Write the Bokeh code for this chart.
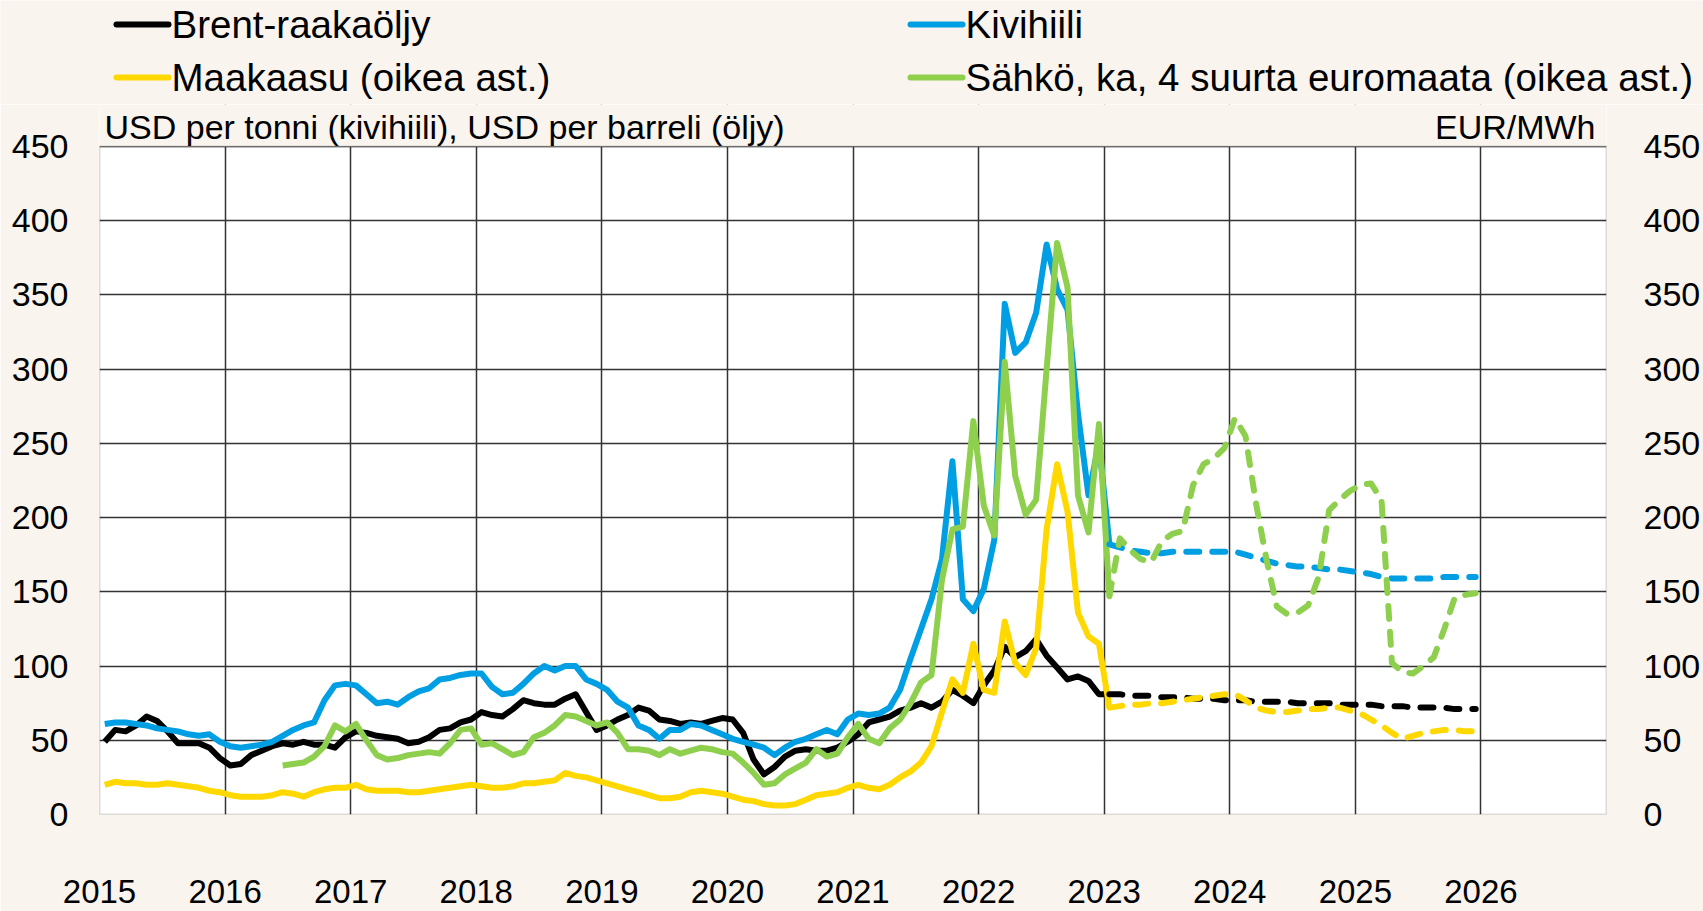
from bokeh.plotting import figure
from bokeh.models import Range1d, LinearAxis, FixedTicker, Label, BoxAnnotation
from bokeh.embed import file_html
from bokeh.resources import INLINE
from bokeh.core.properties import value

START_YEAR = 2015

# ---------------- data (monthly, Jan 2015 .. Jan 2023 history) ----------------
brent_hist = [
    49, 57, 56, 60, 66, 63, 56, 48, 48, 48, 45, 38,
    33, 34, 40, 43, 46, 48, 47, 49, 47, 47, 45, 52,
    56, 55, 53, 52, 51, 48, 49, 52, 57, 58, 62, 64,
    69, 67, 66, 71, 77, 75, 74, 74, 78, 81, 69, 57,
    60, 64, 67, 72, 70, 64, 63, 61, 62, 61, 63, 65,
    64, 55, 37, 27, 32, 39, 43, 44, 43, 43, 45, 49,
    54, 62, 64, 66, 70, 72, 75, 72, 76, 84, 80, 75,
    87, 97, 113, 106, 110, 118, 107, 99, 91, 93, 90, 81,
    81,
]
coal_hist = [
    61, 62, 62, 61, 60, 58, 57, 56, 54, 53, 54, 49,
    46, 45, 46, 47, 49, 53, 57, 60, 62, 77, 87, 88,
    87, 81, 75, 76, 74, 79, 83, 85, 91, 92, 94, 95,
    95, 86, 81, 82, 88, 95, 100, 97, 100, 100, 91, 88,
    84, 76, 72, 60, 57, 51, 57, 57, 61, 60, 57, 54,
    51, 49, 47, 45, 40, 45, 49, 51, 54, 57, 54, 64,
    68, 67, 68, 72, 84, 105, 125, 145, 172, 238, 145, 137,
    152, 185, 344, 311, 318, 338, 384, 354, 340, 270, 215, 250,
    182,
]
gas_hist = [
    20, 22, 21, 21, 20, 20, 21, 20, 19, 18, 16, 15,
    13, 12, 12, 12, 13, 15, 14, 12, 15, 17, 18, 18,
    20, 17, 16, 16, 16, 15, 15, 16, 17, 18, 19, 20,
    19, 18, 18, 19, 21, 21, 22, 23, 28, 26, 25, 23,
    21, 19, 17, 15, 13, 11, 11, 12, 15, 16, 15, 14,
    12, 10, 9, 7, 6, 6, 7, 10, 13, 14, 15, 18,
    20, 18, 17, 20, 25, 29, 35, 46, 69, 91, 82, 115,
    84, 82, 130, 102, 94, 112, 192, 236, 204, 136, 120, 115,
    72,
]
# electricity starts Jun 2016
POWER_FIRST_MONTH = 17
power_hist = [
    33, 34, 35, 39, 46, 60, 56,
    61, 50, 40, 37, 38, 40, 41, 42, 41, 48, 57, 58,
    47, 48, 44, 40, 42, 52, 55, 60, 67, 66, 63, 60,
    62, 55, 44, 44, 43, 40, 44, 41, 43, 45, 44, 42,
    41, 35, 28, 20, 21, 27, 31, 35, 44, 39, 41, 52,
    61, 51, 48, 58, 64, 75, 89, 94, 158, 192, 194, 265,
    208, 188, 305, 228, 202, 212, 300, 385, 355, 215, 190, 263,
    147,
]
# ---------------- forecasts, Jan 2023 .. Dec 2025 ----------------
FCST_FIRST_MONTH = 96
brent_fcst = [
    81, 81, 80, 80, 80, 79, 79, 79, 78, 78, 78, 77,
    77, 77, 76, 76, 76, 76, 75, 75, 75, 75, 74, 74,
    74, 74, 73, 73, 73, 72, 72, 72, 72, 71, 71, 71,
]
coal_fcst = [
    182, 180, 178, 177, 176, 176, 177, 177, 177, 177, 177, 177,
    177, 175, 173, 171, 169, 168, 167, 167, 166, 165, 165, 164,
    163, 162, 160, 159, 159, 159, 159, 159, 160, 160, 160, 160,
]
gas_fcst = [
    72, 73, 74, 74, 75, 75, 76, 77, 78, 79, 80, 81,
    81, 77, 72, 70, 69, 69, 70, 71, 71, 72, 72, 70,
    68, 64, 60, 55, 51, 53, 55, 56, 57, 57, 56, 56,
]
power_fcst = [
    147, 186, 178, 172, 170, 184, 189, 191, 222, 236, 240, 247,
    267, 255, 210, 172, 140, 135, 136, 141, 160, 205, 212, 218,
    222, 223, 212, 102, 96, 95, 100, 106, 125, 146, 148, 149,
]

legend_names = ["Brent-raakaöljy", "Kivihiili", "Maakaasu (oikea ast.)",
                "Sähkö, ka, 4 suurta euromaata (oikea ast.)"]
left_unit = "USD per tonni (kivihiili), USD per barreli (öljy)"
right_unit = "EUR/MWh"
year_ticks = list(range(2015, 2027))
year_labels = [str(y) for y in year_ticks]
value_ticks = list(range(0, 451, 50))

# ---------------- styling / layout ----------------
BG = "#F9F4ED"
FONT = "Liberation Sans"
C_BRENT = "#000000"
C_COAL = "#009FE3"
C_GAS = "#FFD800"
C_POWER = "#8FCF4E"
LW = 6
DASH = "13 13"

W, H = 1703, 911
HDR_H = 104                     # header strip with the legend
FR_LEFT, FR_RIGHT = 99, 1607    # plot area, page pixels
FR_TOP, FR_BOTTOM = 146, 814    # y=450 and y=0, page pixels
X0, X1, Y0, Y1 = 2015, 2027, 0, 450
PX_PER_UNIT = (FR_BOTTOM - FR_TOP) / (Y1 - Y0)
Y_TOP = Y1 + (FR_TOP - HDR_H) / PX_PER_UNIT   # frame reaches up to the header


def px_x(px):
    return X0 + (px - FR_LEFT) * (X1 - X0) / (FR_RIGHT - FR_LEFT)


def px_y(py):
    return Y1 + (FR_TOP - py) / PX_PER_UNIT


def months(first, n):
    return [START_YEAR + (first + i + 0.5) / 12 for i in range(n)]


# ---------------- header (legend) ----------------
hdr = figure(width=W, height=HDR_H, x_range=Range1d(0, W), y_range=Range1d(HDR_H, 0),
             output_backend="svg", toolbar_location=None, title=None,
             x_axis_type=None, y_axis_type=None,
             min_border_left=0, min_border_right=0, min_border_top=0, min_border_bottom=0,
             background_fill_color=BG, border_fill_color=BG, outline_line_color=None)
leg_x0 = [116, 910, 116, 910]
leg_x1 = [168, 962, 168, 962]
leg_y = [24, 24, 77, 77]
leg_cols = [C_BRENT, C_COAL, C_GAS, C_POWER]
hdr.segment(x0=leg_x0, y0=leg_y, x1=leg_x1, y1=leg_y, line_color=leg_cols,
            line_width=6, line_cap="round")
hdr.text(x=[x + 3 for x in leg_x1], y=leg_y, text=legend_names, text_font=value(FONT),
         text_font_size="38.5px", text_baseline="middle", text_align="left", text_color="black")

# ---------------- main chart ----------------
p = figure(width=W, height=H - HDR_H, x_range=Range1d(X0, X1), y_range=Range1d(Y0, Y_TOP),
           output_backend="svg", toolbar_location=None, title=None,
           min_border_left=FR_LEFT, min_border_right=W - FR_RIGHT, min_border_top=0,
           min_border_bottom=H - FR_BOTTOM,
           background_fill_color="white", border_fill_color=BG, outline_line_color=None)
p.extra_y_ranges = {"right": Range1d(Y0, Y_TOP)}

p.xaxis.ticker = FixedTicker(ticks=year_ticks)
p.xaxis.major_label_overrides = {t: l for t, l in zip(year_ticks, year_labels)}
p.yaxis.ticker = FixedTicker(ticks=value_ticks)
raxis = LinearAxis(y_range_name="right", ticker=FixedTicker(ticks=value_ticks))
p.add_layout(raxis, "right")

for ax in [p.xaxis[0], p.yaxis[0], raxis]:
    ax.axis_line_color = None
    ax.major_tick_line_color = None
    ax.minor_tick_line_color = None
    ax.major_label_text_font = FONT
    ax.major_label_text_color = "black"
p.xaxis.major_label_text_font_size = "33px"
p.yaxis.major_label_text_font_size = "34px"
raxis.major_label_text_font_size = "34px"
p.xaxis.major_label_standoff = 59
p.yaxis.major_label_standoff = 25
raxis.major_label_standoff = 31

for g in [p.xgrid[0], p.ygrid[0]]:
    g.grid_line_color = "#333333"
    g.grid_line_width = 1.5

# history lines
p.line(months(0, len(brent_hist)), brent_hist, line_color=C_BRENT, line_width=LW, line_join="round")
p.line(months(0, len(coal_hist)), coal_hist, line_color=C_COAL, line_width=LW, line_join="round")
p.line(months(0, len(gas_hist)), gas_hist, line_color=C_GAS, line_width=LW, line_join="round",
       y_range_name="right")
p.line(months(POWER_FIRST_MONTH, len(power_hist)), power_hist, line_color=C_POWER, line_width=LW,
       line_join="round", y_range_name="right")

# forecast lines
for vals, col, rng in [(brent_fcst, C_BRENT, "default"), (coal_fcst, C_COAL, "default"),
                       (gas_fcst, C_GAS, "right"), (power_fcst, C_POWER, "right")]:
    p.line(months(FCST_FIRST_MONTH, len(vals)), vals, line_color=col, line_width=LW,
           line_dash=DASH, line_cap="round", line_join="round", y_range_name=rng)

# area above the value axis top belongs to the page background; frame border
p.add_layout(BoxAnnotation(bottom=Y1, top=Y_TOP, left=X0, right=X1, fill_color=BG, fill_alpha=1,
                           line_color=None))
p.add_layout(BoxAnnotation(bottom=Y0, top=Y1, left=X0, right=X1, fill_alpha=0,
                           line_color="#1a1a1a", line_width=1.5))

p.add_layout(Label(x=px_x(104), y=px_y(126), text=left_unit, text_font=FONT,
                   text_font_size="34px", text_baseline="middle", text_align="left",
                   text_color="black"))
p.add_layout(Label(x=px_x(1596), y=px_y(126), text=right_unit, text_font=FONT,
                   text_font_size="34px", text_baseline="middle", text_align="right",
                   text_color="black"))

html = file_html([hdr, p], INLINE, title="Energian hinnat")
html = html.replace("<body>", '<body style="background-color:%s;">' % BG, 1)
open("out.html", "w").write(html)
